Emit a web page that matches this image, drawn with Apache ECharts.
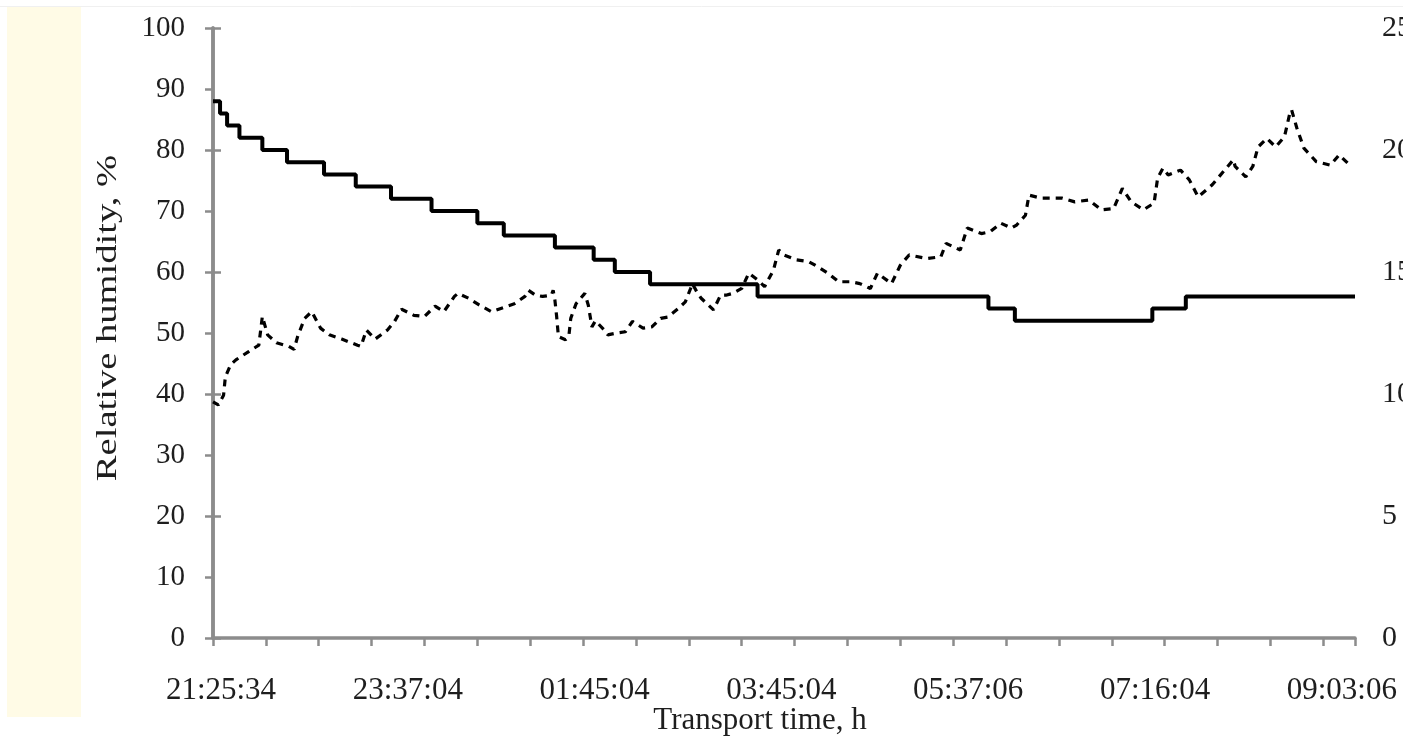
<!DOCTYPE html>
<html>
<head>
<meta charset="utf-8">
<script src="https://cdn.jsdelivr.net/npm/echarts@6/dist/echarts.min.js"></script>
<style>
  html, body { margin: 0; padding: 0; background: #ffffff; }
  #chart { width: 1403px; height: 739px; }
</style>
</head>
<body>
<div id="chart"></div>
<script>
// Logger sample positions along the transport (sample number)
const sampleMax = 648;
const tickStep = 30;
const labelStep = 106;
const tickLabels = ['21:25:34', '23:37:04', '01:45:04', '03:45:04', '05:37:06', '07:16:04', '09:03:06'];

// Relative humidity, %
const rhSample = [0, 3, 6, 7, 10, 13, 20, 26, 28, 31, 36, 43, 46, 48, 52, 56, 61, 66, 73, 82, 84, 87, 92, 99,
  103, 107, 114, 120, 126, 131, 137, 139, 145, 151, 158, 166, 171, 177, 179, 183, 187, 192, 193, 194, 195,
  196, 200, 202, 203, 206, 211, 213, 215, 217, 222, 224, 229, 234, 238, 244, 249, 254, 258, 264, 268, 271,
  272, 275, 277, 284, 288, 291, 295, 300, 304, 309, 313, 318, 321, 324, 331, 338, 343, 349, 355, 362, 367,
  373, 377, 385, 390, 395, 405, 413, 416, 424, 428, 436, 441, 447, 453, 456, 461, 463, 470, 475, 482, 489,
  497, 504, 511, 516, 521, 528, 534, 536, 539, 542, 549, 554, 559, 567, 574, 579, 580, 586, 590, 593, 598,
  603, 608, 611, 612, 615, 619, 626, 634, 639, 644];
const rhValue = [38.7, 38.2, 39.8, 42.8, 44.8, 45.6, 46.9, 48.0, 52.7, 49.7, 48.4, 47.8, 47.3, 49.4, 52.4, 53.5,
  50.8, 49.7, 49.0, 48.0, 47.8, 50.5, 49.0, 50.5, 51.9, 53.9, 52.9, 52.7, 54.4, 53.5, 56.0, 56.5, 55.7, 54.6,
  53.5, 54.3, 54.8, 56.0, 57.0, 56.2, 56.0, 56.2, 57.0, 55.4, 52.7, 49.4, 48.9, 49.7, 52.4, 54.8, 56.5, 54.5,
  51.0, 52.0, 50.5, 49.7, 50.0, 50.2, 51.9, 50.8, 51.0, 52.4, 52.6, 54.0, 55.1, 57.3, 58.1, 56.5, 55.7, 53.8,
  56.2, 56.2, 56.5, 57.3, 59.8, 58.7, 57.6, 60.3, 63.6, 62.8, 62.0, 61.7, 60.9, 59.8, 58.4, 58.4, 58.1, 57.3,
  59.8, 58.1, 61.1, 62.8, 62.2, 62.5, 64.7, 63.6, 67.2, 66.3, 66.6, 68.0, 67.2, 67.7, 69.3, 72.6, 72.1, 72.1,
  72.1, 71.5, 71.8, 70.2, 70.4, 73.7, 71.5, 70.2, 71.3, 75.4, 77.0, 75.9, 76.7, 75.1, 72.3, 74.3, 76.7, 78.4,
  77.3, 75.6, 77.3, 80.5, 81.9, 80.5, 82.2, 86.0, 86.6, 83.6, 80.3, 78.1, 77.5, 79.2, 77.8];

// Air temperature, °C (logger resolution 0.5 °C): sample where each level begins
const tempSample = [0, 4, 8, 15, 28, 42, 63, 81, 101, 124, 150, 165, 194, 216, 228, 248, 309, 440, 455, 533, 552, 648];
const tempValue = [22, 21.5, 21, 20.5, 20, 19.5, 19, 18.5, 18, 17.5, 17, 16.5, 16, 15.5, 15, 14.5, 14, 13.5, 13, 13.5, 14, 14];

const rhData = rhSample.map((s, i) => [s, rhValue[i]]);
const tempData = tempSample.map((s, i) => [s, tempValue[i]]);

const serif = "'Liberation Serif', 'Times New Roman', serif";
const axisGray = '#8c8c8c';
const textColor = '#1e1e1e';

const chart = echarts.init(document.getElementById('chart'), null, { renderer: 'canvas' });

chart.setOption({
  backgroundColor: '#ffffff',
  animation: false,
  graphic: [
    { type: 'rect', shape: { x: 7, y: 7, width: 74, height: 710 }, style: { fill: '#fffbe6' }, z: -10 },
    { type: 'line', shape: { x1: 0, y1: 6.5, x2: 1403, y2: 6.5 }, style: { stroke: '#f0f0f0', lineWidth: 1 }, z: -10 },
    // left axis title, drawn slightly elongated along its reading direction
    {
      type: 'text', x: 108, y: 318, rotation: Math.PI / 2, scaleX: 1.33,
      style: {
        text: 'Relative humidity, %', fontFamily: serif, fontSize: 29, fill: textColor,
        align: 'center', verticalAlign: 'middle'
      }
    }
  ],
  grid: { left: 213, right: 48, top: 28, bottom: 101, containLabel: false, outerBoundsMode: 'none' },
  xAxis: [
    {
      type: 'value', min: 0, max: sampleMax, interval: tickStep,
      axisLine: { show: true, onZero: false, lineStyle: { color: axisGray, width: 3.5 } },
      axisTick: { show: true, length: 8, lineStyle: { color: axisGray, width: 2.5 } },
      axisLabel: { show: false },
      splitLine: { show: false },
      name: 'Transport time, h', nameLocation: 'middle', nameGap: 67,
      nameTextStyle: { fontFamily: serif, fontSize: 31, color: textColor, padding: [0, 48, 0, 0] }
    },
    {
      type: 'value', min: 0, max: sampleMax, interval: labelStep, position: 'bottom',
      axisLine: { show: false }, axisTick: { show: false }, splitLine: { show: false },
      axisLabel: {
        show: true, margin: 37, showMaxLabel: false,
        fontFamily: serif, fontSize: 31, color: textColor, padding: [0, 0, 0, 16],
        formatter: v => (v % labelStep === 0 ? (tickLabels[v / labelStep] || '') : '')
      }
    }
  ],
  yAxis: [
    {
      type: 'value', min: 0, max: 100, interval: 10, position: 'left',
      axisLine: { show: true, lineStyle: { color: axisGray, width: 3.5 } },
      axisTick: { show: true, length: 8, lineStyle: { color: axisGray, width: 2.5 } },
      axisLabel: { margin: 28, fontFamily: serif, fontSize: 29, color: textColor },
      splitLine: { show: false }
    },
    {
      type: 'value', min: 0, max: 25, interval: 5, position: 'right',
      axisLine: { show: true, lineStyle: { color: axisGray, width: 3.5 } },
      axisTick: { show: true, length: 8, lineStyle: { color: axisGray, width: 2.5 } },
      axisLabel: { margin: 27, fontFamily: serif, fontSize: 30, color: textColor },
      splitLine: { show: false }
    }
  ],
  series: [
    {
      name: 'Relative humidity', type: 'line', xAxisIndex: 0, yAxisIndex: 0,
      data: rhData, showSymbol: false, smooth: false,
      lineStyle: { color: '#000000', width: 3.2, type: [7, 6] }
    },
    {
      name: 'Temperature', type: 'line', xAxisIndex: 0, yAxisIndex: 1,
      data: tempData, step: 'end', showSymbol: false,
      lineStyle: { color: '#000000', width: 4 }
    }
  ]
});
</script>
</body>
</html>
